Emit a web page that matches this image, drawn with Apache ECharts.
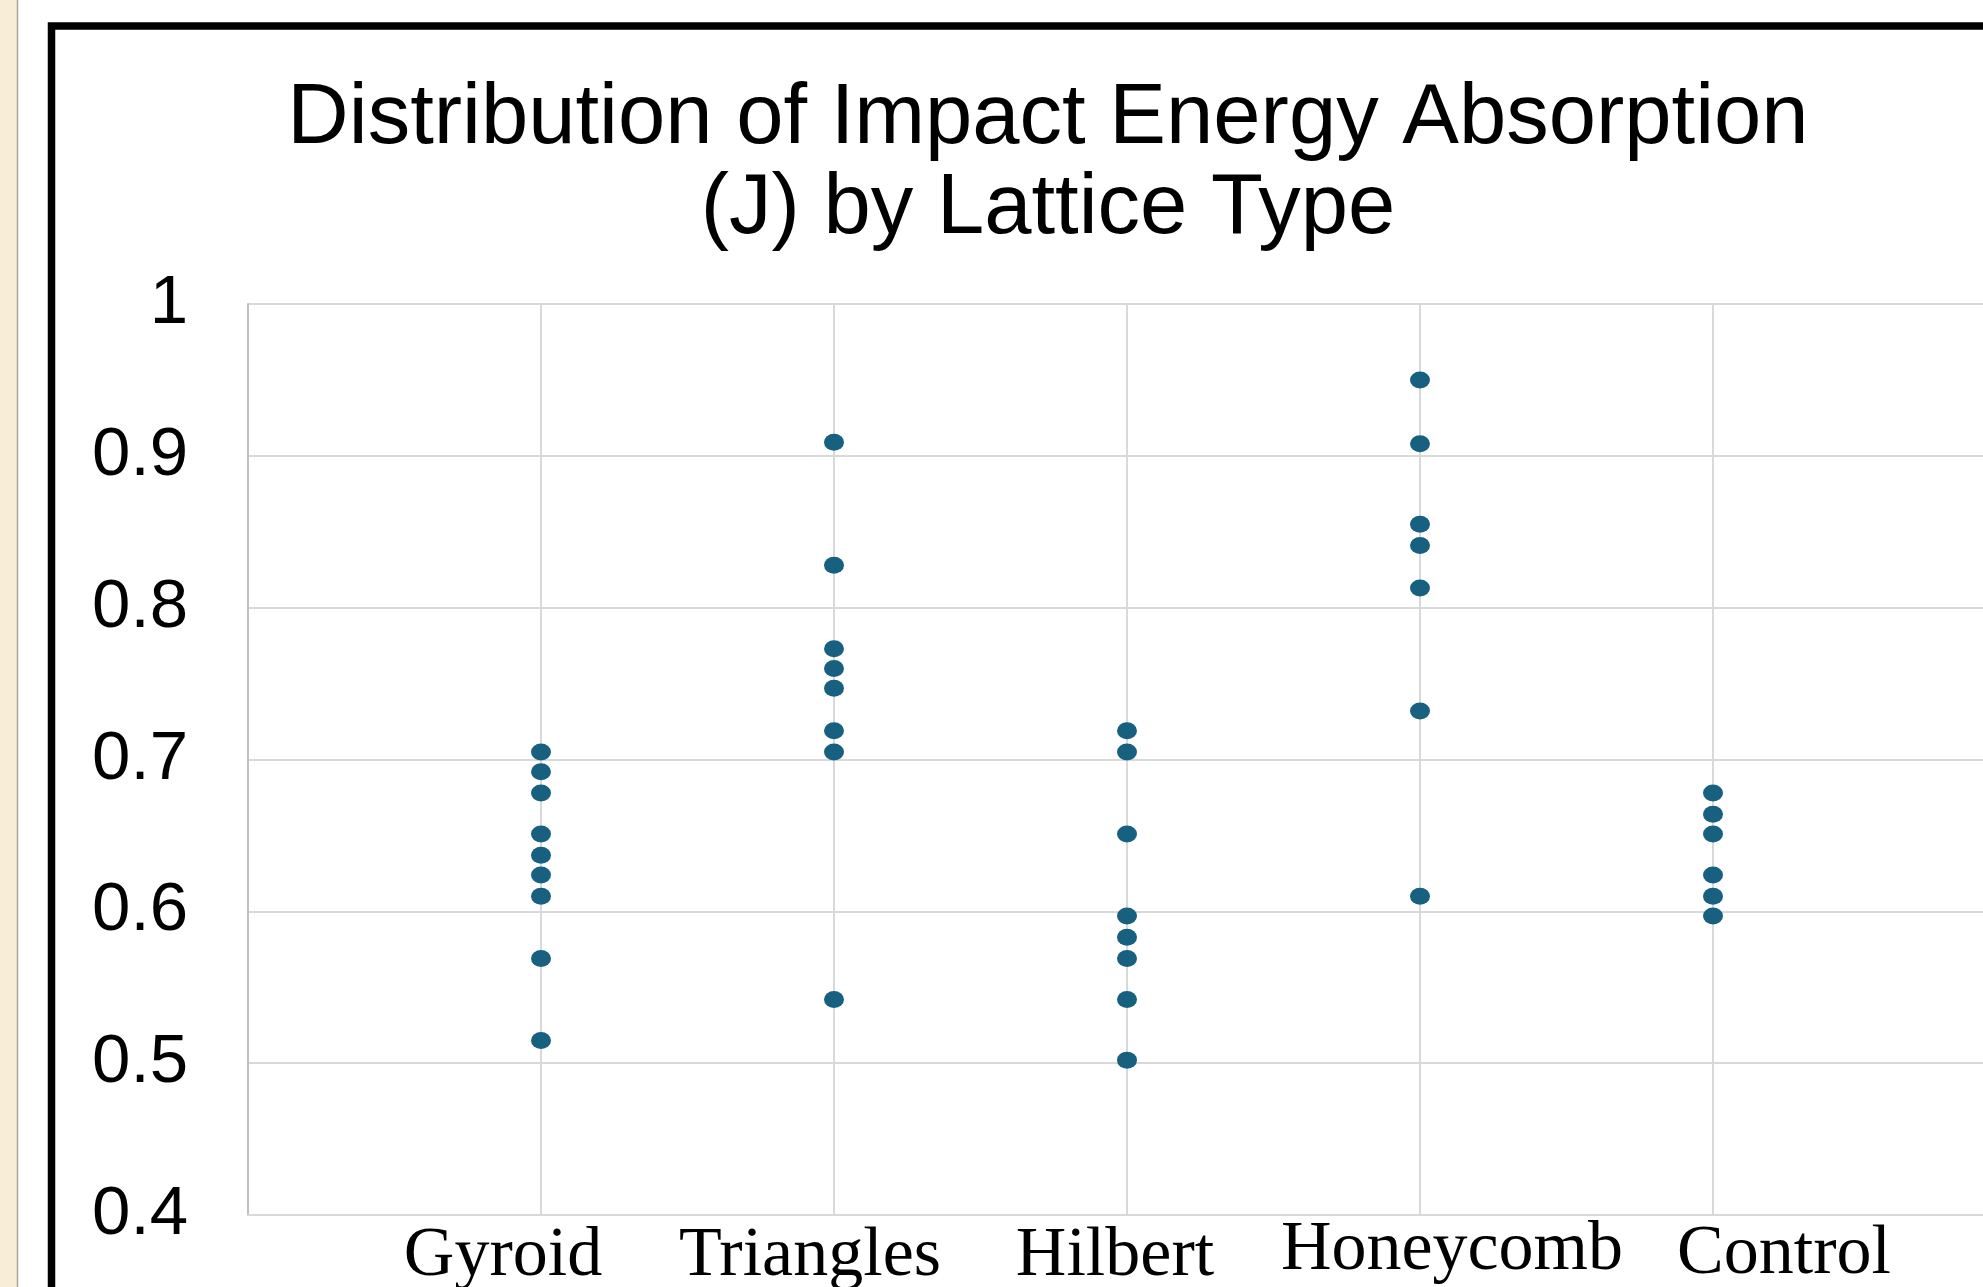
<!DOCTYPE html>
<html>
<head>
<meta charset="utf-8">
<script src="https://cdn.jsdelivr.net/npm/echarts@6/dist/echarts.min.js"></script>
<style>
  html, body { margin: 0; padding: 0; background: #ffffff; }
  #chart { width: 1983px; height: 1287px; }
</style>
</head>
<body>
<div id="chart"></div>
<script>
// lattice types, in x order (x position 1..5)
const lattices = ['Gyroid', 'Triangles', 'Hilbert', 'Honeycomb', 'Control'];

// impact energy absorption (J)
const gyroid    = [0.705, 0.692, 0.678, 0.651, 0.637, 0.624, 0.610, 0.569, 0.515];
const triangles = [0.909, 0.828, 0.773, 0.760, 0.747, 0.719, 0.705, 0.542];
const hilbert   = [0.719, 0.705, 0.651, 0.597, 0.583, 0.569, 0.542, 0.502];
const honeycomb = [0.950, 0.908, 0.855, 0.841, 0.813, 0.732, 0.610];
const control   = [0.678, 0.664, 0.651, 0.624, 0.610, 0.597];

const yTickLabels = ['0.4', '0.5', '0.6', '0.7', '0.8', '0.9', '1'];

// label nudges (px): [left shift(+)/right shift(-), extra top]
const labelShift = [[38, 7], [24, 7], [12, 7], [-32, 1], [-71, 5]];

const groups = [gyroid, triangles, hilbert, honeycomb, control];
const points = [];
groups.forEach((vals, i) => {
  vals.forEach(v => points.push([i + 1, v]));
});

const xFont = { fontFamily: '"Liberation Serif", "Times New Roman", serif', fontSize: 70, color: '#000' };
const rich = {};
labelShift.forEach((s, i) => {
  const dx = s[0];
  rich['l' + (i + 1)] = Object.assign({}, xFont, {
    padding: [s[1], dx > 0 ? dx * 2 : 0, 0, dx < 0 ? -dx * 2 : 0]
  });
});

const chart = echarts.init(document.getElementById('chart'));

const option = {
  backgroundColor: '#ffffff',
  animation: false,
  title: {
    text: 'Distribution of Impact Energy Absorption\n(J) by Lattice Type',
    left: 1048,
    top: 75,
    padding: 0,
    textAlign: 'center',
    textStyle: {
      fontFamily: '"Liberation Sans", Arial, sans-serif',
      fontSize: 85,
      fontWeight: 'normal',
      lineHeight: 90,
      color: '#000'
    }
  },
  graphic: [
    { type: 'rect', shape: { x: 0, y: 0, width: 17, height: 1287 }, style: { fill: '#f8eed8' }, silent: true },
    { type: 'line', shape: { x1: 17.5, y1: 0, x2: 17.5, y2: 1287 }, style: { stroke: '#aaa49b', lineWidth: 1.5 }, silent: true },
    { type: 'rect', shape: { x: 51.5, y: 26, width: 3000, height: 3000 }, style: { fill: 'none', stroke: '#000', lineWidth: 7.5 }, silent: true, z: 100 }
  ],
  grid: {
    left: 248,
    top: 304,
    width: 1758,
    height: 911,
    outerBoundsMode: 'none'
  },
  xAxis: {
    type: 'value',
    min: 0,
    max: 6,
    interval: 1,
    axisLine: { show: true, lineStyle: { color: '#d9d9d9', width: 2 } },
    axisTick: { show: false },
    splitLine: { show: true, lineStyle: { color: '#d9d9d9', width: 2 } },
    axisLabel: {
      margin: 0,
      verticalAlign: 'top',
      formatter: v => (v >= 1 && v <= lattices.length) ? '{l' + v + '|' + lattices[v - 1] + '}' : '',
      rich: rich
    }
  },
  yAxis: {
    type: 'value',
    min: 0.4,
    max: 1,
    interval: 0.1,
    axisLine: { show: true, lineStyle: { color: '#bfbfbf', width: 2 } },
    axisTick: { show: false },
    splitLine: { show: true, lineStyle: { color: '#d9d9d9', width: 2 } },
    axisLabel: {
      margin: 60,
      fontFamily: '"Liberation Sans", Arial, sans-serif',
      fontSize: 69,
      color: '#000',
      formatter: v => yTickLabels[Math.round((v - 0.4) * 10)]
    }
  },
  series: [
    {
      name: 'Impact Energy',
      type: 'scatter',
      symbol: 'circle',
      symbolSize: [20, 17],
      itemStyle: { color: '#17607f', opacity: 1 },
      data: points
    }
  ]
};

chart.setOption(option);
window.addEventListener('resize', chart.resize);
</script>
</body>
</html>
